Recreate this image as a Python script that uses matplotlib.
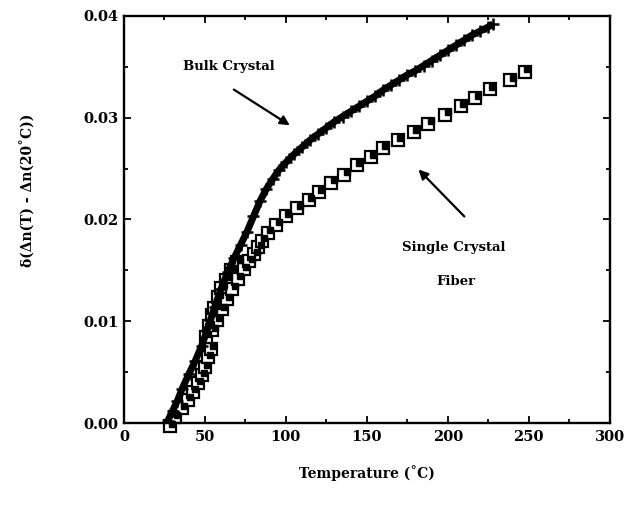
import numpy as np
import matplotlib
matplotlib.use("Agg")
import matplotlib.pyplot as plt
from matplotlib.transforms import offset_copy
from matplotlib.ticker import MultipleLocator

plt.rcParams['font.family'] = 'DejaVu Serif'
plt.rcParams['font.weight'] = 'bold'

# bulk crystal
bulk_T = [27, 30, 33, 36, 40, 44, 48, 52, 56, 60, 64, 68, 72, 76, 80, 84, 88, 92, 96,
          100, 105, 110, 115, 120, 125, 130, 135, 140, 145, 150, 155, 160, 165, 170,
          175, 180, 185, 190, 195, 200, 205, 210, 215, 220, 225, 228]
bulk_dn = [0.0002, 0.0012, 0.0022, 0.0034, 0.0048, 0.0061, 0.0076, 0.0094, 0.0114, 0.0132,
           0.0148, 0.0162, 0.0175, 0.0188, 0.0203, 0.0218, 0.0230, 0.0240, 0.0249,
           0.0256, 0.0264, 0.0271, 0.0278, 0.0284, 0.0290, 0.0296, 0.0301, 0.0306,
           0.0311, 0.0316, 0.0321, 0.0327, 0.0332, 0.0337, 0.0342, 0.0346, 0.0351,
           0.0356, 0.0361, 0.0366, 0.0371, 0.0376, 0.0381, 0.0385, 0.0389, 0.0392]

# single crystal fiber
fiber_T = [28.3, 31.3, 35.6, 39.3, 42.4, 45.5, 48.0, 49.8, 51.6, 53.5,
           50.5, 52.5, 54.1, 55.9, 57.8, 60.2, 63.3, 66.4, 70.0,
           54.5, 57.5, 60.5, 63.5, 67.0, 70.5, 74.0, 77.5, 80.5, 83.0,
           85.0, 89.0, 94.0, 100.0, 107.0, 114.0, 120.5, 128.0, 136.0, 144.0,
           152.5, 160.0, 169.0, 179.0, 188.0, 198.5, 208.0, 217.0, 226.0, 238.5, 247.7]
fiber_dn = [-0.0003, 0.0006, 0.0015, 0.0023, 0.0031, 0.0039, 0.0047, 0.0055, 0.0065, 0.0073,
            0.0085, 0.0095, 0.0106, 0.0113, 0.0124, 0.0133, 0.0141, 0.0150, 0.0158,
            0.0091, 0.0101, 0.0112, 0.0122, 0.0132, 0.0142, 0.0151, 0.0159, 0.0166, 0.0173,
            0.0179, 0.0187, 0.0195, 0.0203, 0.0211, 0.0219, 0.0227, 0.0236, 0.0244, 0.0253,
            0.0261, 0.0270, 0.0278, 0.0286, 0.0294, 0.0303, 0.0311, 0.0319, 0.0328, 0.0337, 0.0345]

fig = plt.figure(figsize=(6.26, 5.08), dpi=100)
ax = fig.add_axes([0.198, 0.167, 0.776, 0.802])

ax.plot(fiber_T, fiber_dn, ls='none', marker='s', ms=8, mfc='white', mec='black',
        mew=1.6, clip_on=False, zorder=2)
shifted = offset_copy(ax.transData, fig=fig, x=1.7, y=1.7, units='points')
ax.plot(fiber_T, fiber_dn, ls='none', marker='s', ms=4.2, mfc='black', mec='black',
        transform=shifted, clip_on=False, zorder=3)

ax.plot(bulk_T, bulk_dn, color='black', lw=5, solid_capstyle='butt', zorder=4)
ax.plot(bulk_T, bulk_dn, ls='none', marker='+', ms=8, mew=1.8, color='black', zorder=5)

ax.set_xlim(0, 300)
ax.set_ylim(0, 0.04)
ax.xaxis.set_major_locator(MultipleLocator(50))
ax.xaxis.set_minor_locator(MultipleLocator(25))
ax.yaxis.set_major_locator(MultipleLocator(0.01))
ax.yaxis.set_minor_locator(MultipleLocator(0.005))
ax.set_yticklabels(['%.2f' % v for v in ax.get_yticks()])
ax.tick_params(which='both', direction='in', top=True, right=True, width=1.3,
               labelsize=10.5)
ax.tick_params(axis='x', pad=5)
ax.tick_params(axis='y', pad=4)
ax.tick_params(which='major', length=5)
ax.tick_params(which='minor', length=3)
for s in ax.spines.values():
    s.set_linewidth(1.7)

ax.set_xlabel('Temperature (˚C)', fontsize=10, fontweight='bold', labelpad=15)
ax.set_ylabel('δ(Δn(T) - Δn(20˚C))', fontsize=10, fontweight='bold')
ax.yaxis.set_label_coords(-0.182, 0.572)

ax.text(65, 0.0350, 'Bulk Crystal', fontsize=9.5, fontweight='bold', ha='center', va='center')
ax.annotate('', xy=(103.9, 0.0291), xytext=(66.4, 0.0329),
            arrowprops=dict(arrowstyle='-|>', color='black', lw=1.6, mutation_scale=14))
ax.text(203.5, 0.0172, 'Single Crystal', fontsize=9.5, fontweight='bold', ha='center', va='center')
ax.text(205, 0.0139, 'Fiber', fontsize=9.5, fontweight='bold', ha='center', va='center')
ax.annotate('', xy=(180.7, 0.0251), xytext=(211.4, 0.0201),
            arrowprops=dict(arrowstyle='-|>', color='black', lw=1.6, mutation_scale=14))

fig.savefig('out.png', dpi=100)
